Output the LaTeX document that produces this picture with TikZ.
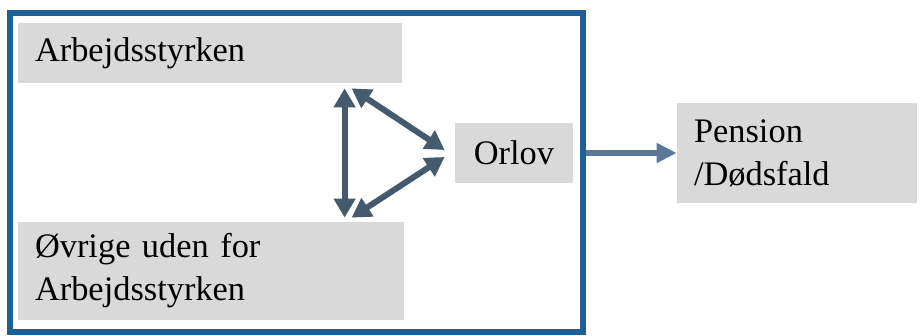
\documentclass[tikz,border=0pt]{standalone}
\usepackage{fontspec}
\setmainfont{Liberation Serif}
\definecolor{rammeblue}{HTML}{1D5F96}
\definecolor{pilgraa}{HTML}{455A6C}
\definecolor{pilblue}{HTML}{5B7896}
\definecolor{boksgraa}{HTML}{D9D9D9}
\usetikzlibrary{positioning,arrows.meta,calc}

\begin{document}
\begin{tikzpicture}[
  x=0.5pt, y=-0.5pt,
  font=\fontsize{17.2}{21.5}\selectfont,
  boks/.style={fill=boksgraa, inner ysep=0pt, inner xsep=8.5pt, align=left},
  ramme/.style={draw=rammeblue, line width=3pt, minimum width=286.5pt, minimum height=159.5pt, inner sep=0pt},
  dblarr/.style={{Triangle[length=9.5pt,width=10.5pt]}-{Triangle[length=9.5pt,width=10.5pt]}, line width=3pt, color=pilgraa},
  outarr/.style={-{Triangle[length=10pt,width=9.5pt]}, line width=3.4pt, color=pilblue},
]
  \useasboundingbox (0,0) rectangle (924,336);
  \node[ramme] (ramme) at (296.5,172.5) {};
  \node[boks, text width=175pt, minimum height=30pt] (arb) at (210,53) {Arbejdsstyrken};
  \node[boks, text width=176pt, minimum height=49pt] (ovr) at (211,271) {Øvrige uden for\\Arbejdsstyrken};
  \node[boks, align=center, minimum width=59pt, minimum height=30pt, inner xsep=0pt] (orl) at (514,153) {Orlov};
  \node[boks, text width=103pt, minimum height=50pt] (pen) at (797,153) {Pension\\/Dødsfald};
  % pile mellem grupperne
  \draw[dblarr] ([xshift=163.5pt,yshift=-2.5pt]arb.south west) -- ([xshift=163.5pt,yshift=2pt]ovr.north west);
  \draw[dblarr] ([xshift=167pt,yshift=-2.5pt]arb.south west) -- ([xshift=-5pt,yshift=1.5pt]orl.west);
  \draw[dblarr] ([xshift=-5pt,yshift=-2pt]orl.west) -- ([xshift=167pt,yshift=2pt]ovr.north west);
  \draw[outarr] (ramme.east |- orl) -- (pen.west);
\end{tikzpicture}
\end{document}
